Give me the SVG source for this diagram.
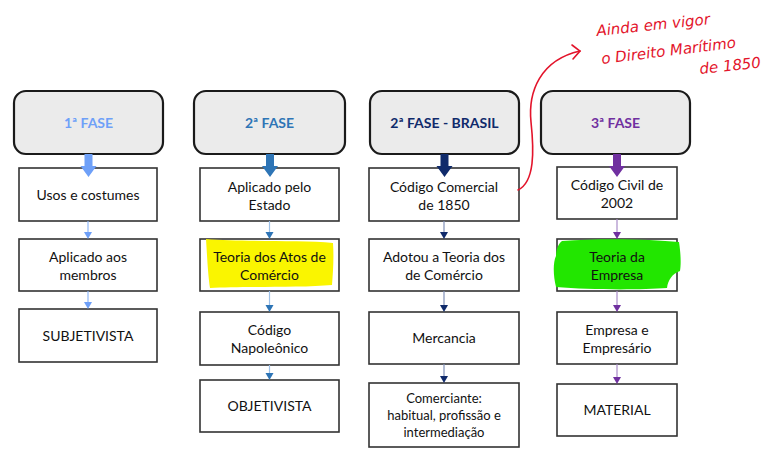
<svg xmlns="http://www.w3.org/2000/svg" width="767" height="451" viewBox="0 0 767 451">
<style>
.hdr{fill:#EBEBEB;stroke:#1a1a1a;stroke-width:2.2}
.box{fill:#fff;stroke:#333;stroke-width:1.6}
.t{font-family:Lato,"Open Sans",sans-serif;font-size:14px;fill:#111;text-anchor:middle}
.s{font-size:13px}
.h{font-family:Lato,"Open Sans",sans-serif;font-size:14px;font-weight:bold;text-anchor:middle}
.hand{font-family:"DejaVu Sans",sans-serif;font-style:italic;font-size:15px;fill:#E3142B}
</style>
<rect width="767" height="451" fill="#fff"/>

<g id="headers">
<g id="h1"><rect class="hdr" x="14" y="91" width="149" height="63" rx="12"/><text class="h" x="88.5" y="128" fill="#6EA0F8">1ª FASE</text></g>
<g id="h2"><rect class="hdr" x="194" y="91" width="151" height="63" rx="12"/><text class="h" x="269.5" y="128" fill="#2E75B6">2ª FASE</text></g>
<g id="h3"><rect class="hdr" x="370" y="91" width="149" height="63" rx="12"/><text class="h" x="444.5" y="128" fill="#0F2A6B">2ª FASE - BRASIL</text></g>
<g id="h4"><rect class="hdr" x="541" y="91" width="149" height="63" rx="12"/><text class="h" x="615.5" y="128" fill="#7030A0">3ª FASE</text></g>
</g>

<g id="col1">
<g id="c1b1"><rect class="box" x="19" y="168" width="138" height="53"/><text class="t" x="88" y="200">Usos e costumes</text></g>
<g id="c1b2"><rect class="box" x="19" y="239" width="138" height="52"/><text class="t" x="88" y="262">Aplicado aos</text><text class="t" x="88" y="280">membros</text></g>
<g id="c1b3"><rect class="box" x="19" y="309" width="138" height="53"/><text class="t" x="88" y="341">SUBJETIVISTA</text></g>
</g>

<g id="col2">
<g id="c2b1"><rect class="box" x="200" y="168" width="139" height="53"/><text class="t" x="269.5" y="192">Aplicado pelo</text><text class="t" x="269.5" y="210">Estado</text></g>
<g id="c2b2"><rect class="box" x="200" y="239" width="139" height="52"/>
<path d="M206,239 C240,242 300,240 333,243 C334,258 333,272 332,285 C300,288 240,286 210,288 C208,275 207,255 206,239z" fill="#FAF500"/>
<text class="t" x="269.5" y="262">Teoria dos Atos de</text><text class="t" x="269.5" y="280">Comércio</text></g>
<g id="c2b3"><rect class="box" x="200" y="312" width="139" height="53"/><text class="t" x="269.5" y="335">Código</text><text class="t" x="269.5" y="353">Napoleônico</text></g>
<g id="c2b4"><rect class="box" x="200" y="380" width="139" height="52"/><text class="t" x="269.5" y="411">OBJETIVISTA</text></g>
</g>

<g id="col3">
<g id="c3b1"><rect class="box" x="369" y="168" width="150" height="53"/><text class="t" x="444" y="192">Código Comercial</text><text class="t" x="444" y="210">de 1850</text></g>
<g id="c3b2"><rect class="box" x="369" y="239" width="150" height="52"/><text class="t" x="444" y="262">Adotou a Teoria dos</text><text class="t" x="444" y="280">de Comércio</text></g>
<g id="c3b3"><rect class="box" x="369" y="312" width="150" height="52"/><text class="t" x="444" y="343">Mercancia</text></g>
<g id="c3b4"><rect class="box" x="369" y="383" width="150" height="64"/><text class="t s" x="444" y="403">Comerciante:</text><text class="t s" x="444" y="420">habitual, profissão e</text><text class="t s" x="444" y="437">intermediação</text></g>
</g>

<g id="col4">
<g id="c4b1"><rect class="box" x="557" y="167" width="120" height="52"/><text class="t" x="617" y="190">Código Civil de</text><text class="t" x="617" y="208">2002</text></g>
<g id="c4b2"><rect class="box" x="557" y="239" width="120" height="52"/>
<path d="M562,241 C600,238 650,239 679,242 C681,255 681,265 680,271 C672,274 668,280 667,288 C640,290 590,290 556,287 C553,275 553,262 556,256 C556,250 558,244 562,241z" fill="#22E600"/>
<text class="t" x="617" y="262">Teoria da</text><text class="t" x="617" y="280">Empresa</text></g>
<g id="c4b3"><rect class="box" x="557" y="312" width="120" height="52"/><text class="t" x="617" y="335">Empresa e</text><text class="t" x="617" y="353">Empresário</text></g>
<g id="c4b4"><rect class="box" x="557" y="384" width="120" height="52"/><text class="t" x="617" y="415">MATERIAL</text></g>
</g>

<g id="connectors" stroke-width="1.2">
<path d="M84.5,154 h8 v12 h4 l-8,11 l-8,-11 h4z" fill="#6EA0F8"/>
<path d="M266,154 h8 v12 h4 l-8,11 l-8,-11 h4z" fill="#2E75B6"/>
<path d="M440.5,154 h8 v12 h4 l-8,11 l-8,-11 h4z" fill="#0F2A6B"/>
<path d="M613,154 h8 v12 h4 l-8,11 l-8,-11 h4z" fill="#7030A0"/>
<g stroke="#8FB8F8" fill="#6EA0F8">
<line x1="88" y1="221" x2="88" y2="233"/><path d="M84,232 h8 l-4,7z" stroke="none"/>
<line x1="88" y1="291" x2="88" y2="303"/><path d="M84,302 h8 l-4,7z" stroke="none"/>
</g>
<g stroke="#9DC0E8" fill="#2E75B6">
<line x1="269.5" y1="221" x2="269.5" y2="233"/><path d="M265.5,232 h8 l-4,7z" stroke="none"/>
<line x1="269.5" y1="291" x2="269.5" y2="306"/><path d="M265.5,305 h8 l-4,7z" stroke="none"/>
<line x1="269.5" y1="365" x2="269.5" y2="374"/><path d="M265.5,373 h8 l-4,7z" stroke="none"/>
</g>
<g stroke="#8090B8" fill="#0F2A6B">
<line x1="444" y1="221" x2="444" y2="233"/><path d="M440,232 h8 l-4,7z" stroke="none"/>
<line x1="444" y1="291" x2="444" y2="306"/><path d="M440,305 h8 l-4,7z" stroke="none"/>
<line x1="444" y1="364" x2="444" y2="377"/><path d="M440,376 h8 l-4,7z" stroke="none"/>
</g>
<g stroke="#A88CC8" fill="#7030A0">
<line x1="617" y1="219" x2="617" y2="233"/><path d="M613,232 h8 l-4,7z" stroke="none"/>
<line x1="617" y1="291" x2="617" y2="306"/><path d="M613,305 h8 l-4,7z" stroke="none"/>
<line x1="617" y1="364" x2="617" y2="378"/><path d="M613,377 h8 l-4,7z" stroke="none"/>
</g>
<g fill="none" stroke="#E3142B" stroke-width="1.6" stroke-linecap="round">
<path d="M518,190 C535,182 534,150 531,122 C528,92 540,60 580,51"/>
<path d="M572,45 L580,51 L573,59"/>
</g>
</g>

<g id="note">
<text class="hand" transform="translate(597,36) rotate(-6)">Ainda em vigor</text>
<text class="hand" transform="translate(602,64) rotate(-7)">o Direito Marítimo</text>
<text class="hand" transform="translate(700,74) rotate(-6)">de 1850</text>
</g>
</svg>
